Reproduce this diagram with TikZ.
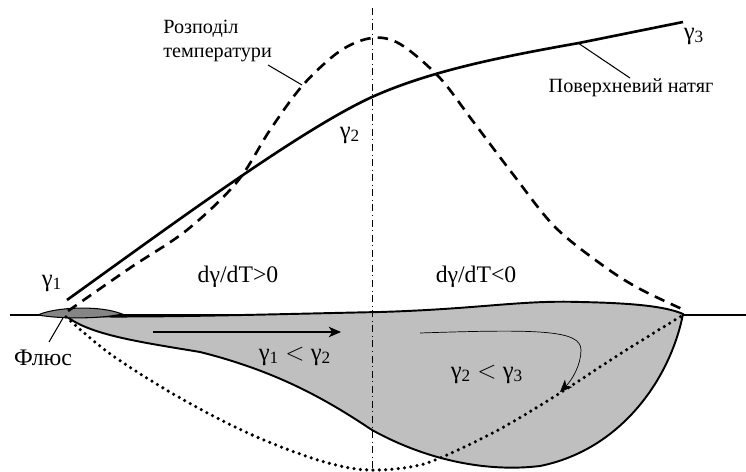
\documentclass[tikz,border=0pt]{standalone}
\usepackage{fontspec}
\setmainfont{Liberation Serif}
\usetikzlibrary{arrows.meta}
\begin{document}
\begin{tikzpicture}[x=0.02cm,y=-0.02cm,
  lbl/.style={inner sep=0pt, font=\fontsize{11.5}{13.5}\selectfont},
  biglbl/.style={inner sep=0pt, font=\fontsize{13.5}{15}\selectfont},
  glbl/.style={inner sep=0pt, font=\fontsize{14}{16}\selectfont},
  tensioncurve/.style={line width=1.5pt},
  temperature/.style={line width=1.5pt, dash pattern=on 6pt off 4pt},
  pool/.style={fill=black!25, draw=black, line width=1.1pt},
  flux/.style={fill=black!48, draw=black, line width=0.6pt},
  profile/.style={line width=2pt, line cap=round, dash pattern=on 0pt off 3.6pt},
  axisline/.style={line width=0.5pt, dash pattern=on 4pt off 2pt on 0.6pt off 2pt},
  leader/.style={line width=0.6pt},
  flow/.style={line width=0.7pt, -{Stealth[length=7pt,width=6pt,inset=2pt]}},
  flowthin/.style={line width=0.4pt, -{Stealth[length=7pt,width=6pt,inset=2pt]}}]
\useasboundingbox (0,0) rectangle (746,472);

% free surface of the melt
\draw[line width=0.8pt] (10,315) -- (746,315);

% weld pool cross-section
\draw[pool] (66,316) .. controls (150,318) and (280,314) .. (380,312)
  .. controls (480,309) and (520,300) .. (580,302)
  .. controls (630,303) and (665,306) .. (683,314)
  .. controls (670,380) and (620,450) .. (540,466)
  .. controls (490,472) and (430,462) .. (372,430)
  .. controls (330,402) and (280,372) .. (200,352)
  .. controls (140,342) and (90,335) .. (66,316) -- cycle;

% flux layer
\draw[flux] (38,315) .. controls (55,307) and (100,305) .. (122,314)
  .. controls (100,319) and (60,319) .. (38,315) -- cycle;

% dotted shallow pool profile
\draw[profile] plot[smooth, tension=0.6] coordinates {(66,317) (105,350) (150,380) (200,409) (250,434)
  (300,454) (340,466) (372,470) (410,467) (440,458) (500,429) (560,393) (620,354) (683,315)};

% symmetry axis
\draw[axisline] (372,8) -- (372,472);

% surface tension curve
\draw[tensioncurve] (67,300) .. controls (170,226) and (300,130) .. (372,97)
  .. controls (430,71) and (500,57) .. (579,43) -- (683,22);

% temperature distribution
\draw[temperature] plot[smooth, tension=0.55] coordinates {(68,311) (130,268) (187,230) (237,182)
  (270,130) (303,85) (340,51) (372,38) (400,44) (439,77) (472,120) (512,173)
  (555,227) (605,267) (640,289) (682,309)};

% flow arrows
\coordinate (f1s) at (153,332);
\coordinate (f1e) at (341,332);
\draw[flow] (f1s) -- (f1e);
\coordinate (f2s) at (420,333);
\coordinate (f2e) at (560,392);
\draw[flowthin] (f2s) .. controls (540,329) and (581,330) .. (581,350)
  .. controls (581,365) and (572,380) .. (f2e);

% labels
\node[lbl, anchor=north west, align=left] (tlbl) at (163,20) {Розподіл\\температури};
\coordinate (tl1) at (268,65);
\coordinate (tl2) at (302,85);
\draw[leader] (tl1) -- (tl2);

\node[lbl] (slbl) at (631,88) {Поверхневий натяг};
\coordinate (sl1) at (578,43);
\coordinate (sl2) at (630,78);
\draw[leader] (sl1) -- (sl2);

\node[biglbl] (flbl) at (43,358) {Флюс};
\coordinate (fl1) at (63,318);
\coordinate (fl2) at (49,342);
\draw[leader] (fl1) -- (fl2);

\node[glbl] (g1) at (52,283) {γ\textsubscript{1}};
\node[glbl] (g2) at (350,135) {γ\textsubscript{2}};
\node[glbl] (g3) at (694,36) {γ\textsubscript{3}};

\node[biglbl] (dpos) at (238,277) {dγ/dT>0};
\node[biglbl] (dneg) at (476,277) {dγ/dT<0};

\node[glbl] (c12) at (295,356) {γ\textsubscript{1} $<$ γ\textsubscript{2}};
\node[glbl] (c23) at (487,374) {γ\textsubscript{2} $<$ γ\textsubscript{3}};
\end{tikzpicture}
\end{document}
